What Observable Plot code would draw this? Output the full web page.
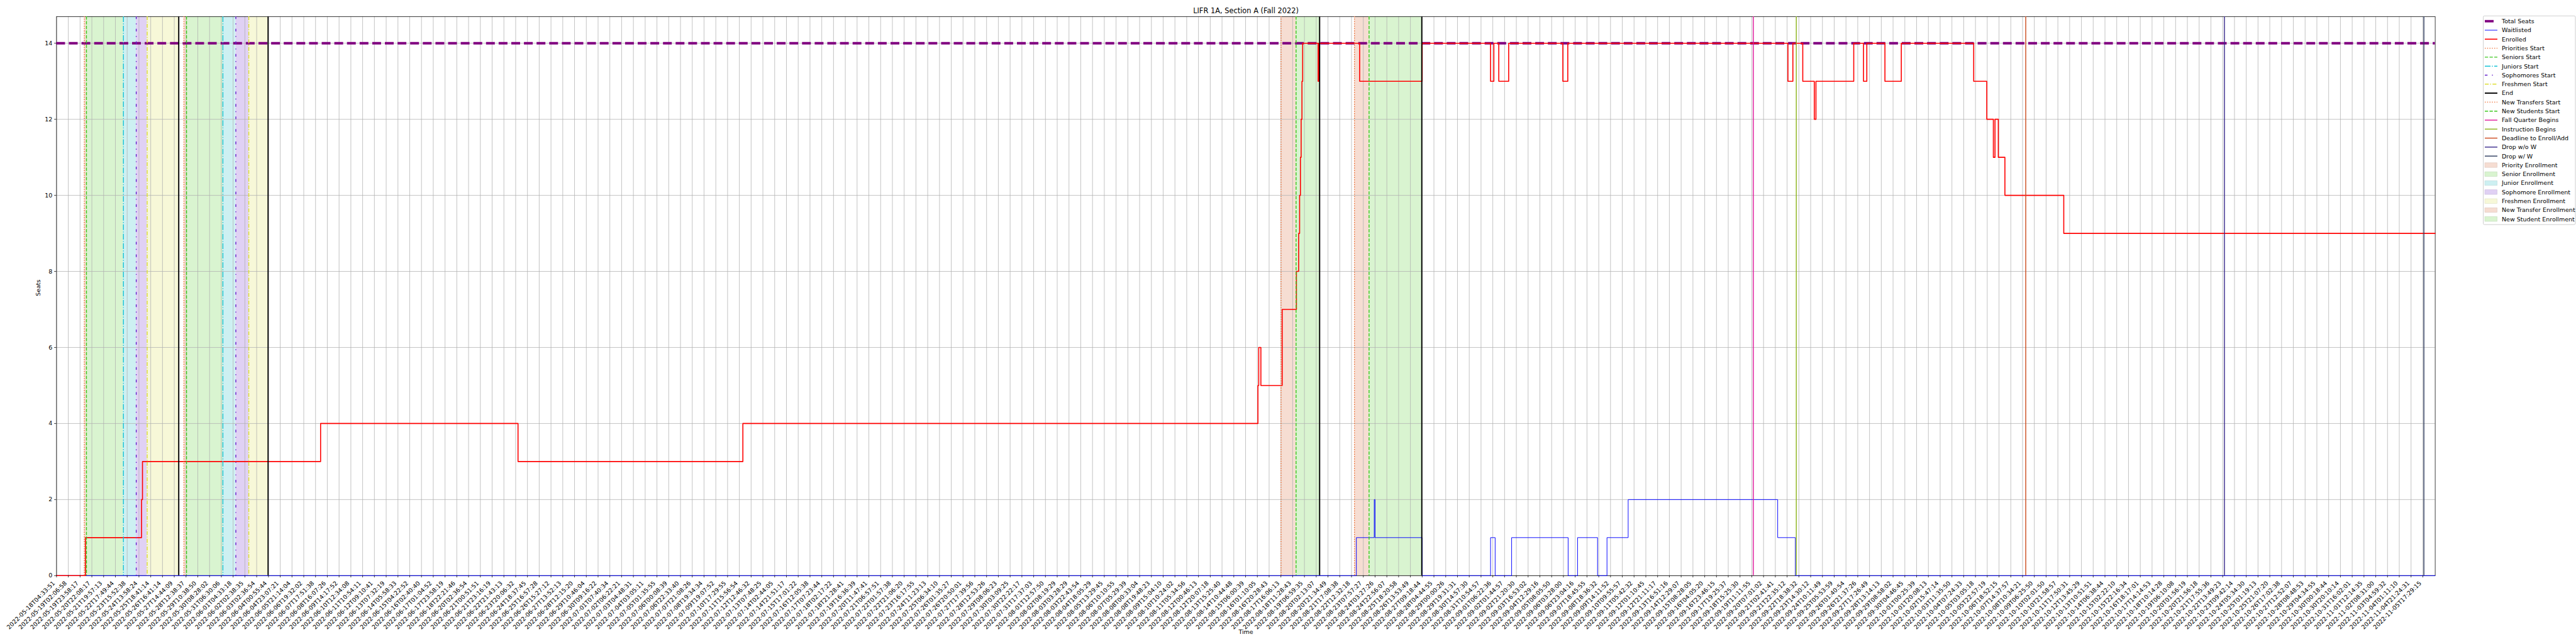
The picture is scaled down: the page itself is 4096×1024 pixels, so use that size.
<!DOCTYPE html>
<html>
<head>
<meta charset="utf-8">
<script src="https://cdn.jsdelivr.net/npm/d3@7"></script>
<script src="https://cdn.jsdelivr.net/npm/@observablehq/plot@0.6"></script>
<style>
  body { margin: 0; background: #fff; }
  #chart { position: relative; width: 4096px; height: 1024px; font-family: "DejaVu Sans", sans-serif; }
  #chart svg { position: absolute; left: 0; top: 0; }
</style>
</head>
<body>
<div id="chart"></div>
<script>
// ---------------- data ----------------
const chartTitle = "LIFR 1A, Section A (Fall 2022)";
const xLabel = "Time";
const yLabel = "Seats";

const tickLabels = [
"2022-05-18T04:33:51","2022-05-19T02:06:58","2022-05-19T23:58:17","2022-05-20T22:08:17","2022-05-21T19:57:13",
"2022-05-22T17:49:44","2022-05-23T15:52:38","2022-05-24T13:58:24","2022-05-25T18:41:14","2022-05-26T16:41:14",
"2022-05-27T14:44:09","2022-05-28T12:38:37","2022-05-29T10:38:50","2022-05-30T08:28:02","2022-05-31T06:30:06",
"2022-06-01T04:33:18","2022-06-02T02:38:35","2022-06-03T02:36:54","2022-06-04T00:55:44","2022-06-04T23:07:21",
"2022-06-05T21:14:04","2022-06-06T19:32:02","2022-06-07T17:51:38","2022-06-08T16:07:26","2022-06-09T14:17:52",
"2022-06-10T12:34:08","2022-06-11T10:54:11","2022-06-12T09:10:41","2022-06-13T07:32:19","2022-06-14T05:58:33",
"2022-06-15T04:22:52","2022-06-16T02:40:40","2022-06-17T01:04:52","2022-06-17T23:58:19","2022-06-18T22:21:46",
"2022-06-20T02:36:54","2022-06-21T00:51:51","2022-06-21T23:16:19","2022-06-22T21:43:13","2022-06-23T20:06:32",
"2022-06-24T18:37:45","2022-06-25T16:57:28","2022-06-26T15:27:12","2022-06-27T13:52:13","2022-06-28T12:15:20",
"2022-06-29T10:46:04","2022-06-30T09:16:22","2022-07-01T07:40:34","2022-07-02T06:22:21","2022-07-03T04:48:31",
"2022-07-04T03:05:11","2022-07-05T01:35:55","2022-07-06T00:08:39","2022-07-06T22:33:40","2022-07-07T21:08:26",
"2022-07-08T19:34:34","2022-07-09T19:07:52","2022-07-10T17:29:55","2022-07-11T15:56:54","2022-07-12T12:46:32",
"2022-07-13T07:48:25","2022-07-14T02:44:05","2022-07-14T21:51:17","2022-07-15T17:01:22","2022-07-16T12:05:38",
"2022-07-17T07:23:44","2022-07-18T02:17:22","2022-07-18T21:28:41","2022-07-19T16:36:39","2022-07-20T11:47:41",
"2022-07-21T06:57:51","2022-07-22T01:57:38","2022-07-22T21:06:20","2022-07-23T16:17:55","2022-07-24T11:23:13",
"2022-07-25T06:34:10","2022-07-26T01:35:27","2022-07-26T20:50:01","2022-07-27T17:39:56","2022-07-28T12:53:26",
"2022-07-29T08:06:23","2022-07-30T03:09:25","2022-07-30T22:22:17","2022-07-31T17:37:03","2022-08-01T12:57:50",
"2022-08-02T08:19:29","2022-08-03T03:28:29","2022-08-03T22:43:54","2022-08-04T18:05:29","2022-08-05T13:29:45",
"2022-08-06T10:10:55","2022-08-07T05:29:39","2022-08-08T00:33:04","2022-08-08T19:48:23","2022-08-09T15:04:10",
"2022-08-10T10:24:02","2022-08-11T05:34:56","2022-08-12T00:46:13","2022-08-12T20:07:18","2022-08-13T15:25:40",
"2022-08-14T10:44:48","2022-08-15T06:00:39","2022-08-16T01:10:05","2022-08-16T20:28:43","2022-08-17T16:06:13",
"2022-08-18T11:28:43","2022-08-19T06:59:35","2022-08-20T02:13:07","2022-08-20T21:34:49","2022-08-21T17:08:38",
"2022-08-22T12:32:18","2022-08-23T07:57:27","2022-08-24T03:27:26","2022-08-24T22:56:07","2022-08-25T18:20:58",
"2022-08-26T13:53:49","2022-08-27T09:18:44","2022-08-28T04:44:55","2022-08-29T00:00:26","2022-08-29T19:31:31",
"2022-08-30T14:57:30","2022-08-31T10:54:57","2022-09-01T06:22:36","2022-09-02T01:44:57","2022-09-02T21:20:30",
"2022-09-03T16:53:02","2022-09-04T12:29:16","2022-09-05T08:05:50","2022-09-06T03:28:00","2022-09-06T23:04:16",
"2022-09-07T18:45:55","2022-09-08T18:36:32","2022-09-09T14:11:52","2022-09-10T09:55:57","2022-09-11T05:42:32",
"2022-09-12T01:10:45","2022-09-12T21:11:17","2022-09-13T16:51:16","2022-09-14T12:29:07","2022-09-15T08:28:05",
"2022-09-16T04:05:20","2022-09-16T23:46:15","2022-09-17T19:25:37","2022-09-18T15:25:30","2022-09-19T11:11:55",
"2022-09-20T07:01:02","2022-09-21T02:41:41","2022-09-21T22:35:12","2022-09-22T18:38:32","2022-09-23T14:30:12",
"2022-09-24T10:11:49","2022-09-25T05:53:59","2022-09-26T01:40:54","2022-09-26T21:37:26","2022-09-27T17:26:49",
"2022-09-28T13:14:13","2022-09-29T08:58:02","2022-09-30T04:46:45","2022-10-01T00:25:39","2022-10-01T20:08:13",
"2022-10-02T15:47:14","2022-10-03T11:35:50","2022-10-04T07:24:33","2022-10-05T03:05:18","2022-10-05T22:57:19",
"2022-10-06T18:52:15","2022-10-07T14:37:57","2022-10-08T10:34:21","2022-10-09T06:25:50","2022-10-10T02:01:50",
"2022-10-10T21:58:57","2022-10-11T17:50:31","2022-10-12T13:45:29","2022-10-13T10:51:51","2022-10-14T06:38:44",
"2022-10-15T02:22:10","2022-10-15T22:16:34","2022-10-16T18:17:01","2022-10-17T14:14:53","2022-10-18T10:14:28",
"2022-10-19T06:10:08","2022-10-20T01:56:19","2022-10-20T21:56:18","2022-10-21T17:55:36","2022-10-22T13:49:23",
"2022-10-23T09:42:14","2022-10-24T05:34:30","2022-10-25T01:19:13","2022-10-25T21:07:20","2022-10-26T17:02:38",
"2022-10-27T12:52:07","2022-10-28T08:48:53","2022-10-29T04:34:55","2022-10-30T00:18:44","2022-10-30T20:10:14",
"2022-10-31T16:02:01","2022-11-01T12:14:35","2022-11-02T08:31:00","2022-11-03T04:59:32","2022-11-04T01:11:10",
"2022-11-04T21:24:31","2022-11-05T17:29:15"
];
const yTicks = [0, 2, 4, 6, 8, 10, 12, 14];
const xEnd = 202.05;          // right end of the sample axis (in tick intervals)

const totalSeats = 14;

// x positions are measured in tick intervals along the sample axis
const enrolledX = [0, 2.46, 7.22, 7.30, 22.43, 39.2, 58.3, 102.05, 102.12, 102.3, 104.11,
  105.32, 105.51, 105.59, 105.66, 105.72, 105.79, 105.85, 107.16, 107.23, 110.69, 116.0,
  121.81, 122.09, 122.51, 123.35, 127.95, 128.37, 147.07, 147.49, 148.33, 149.31, 149.45,
  152.66, 153.49, 153.77, 155.31, 156.70, 162.85, 163.96, 164.52, 164.66, 164.94, 165.5, 170.5, 202.05];
const enrolledY = [0, 1, 2, 3, 4, 3, 4, 5, 6, 5, 7,
  8, 9, 10, 11, 12, 13, 14, 13, 14, 13, 14,
  13, 14, 13, 14, 13, 14, 13, 14, 13, 12, 13,
  14, 13, 14, 13, 14, 13, 12, 11, 12, 11, 10, 9, 9];

const waitX = [0, 110.41, 111.93, 112.0, 116.0, 121.81, 122.2, 123.6, 128.4, 129.2, 130.9, 131.7, 133.5, 146.2, 147.7, 202.05];
const waitY = [0, 1, 2, 1, 0, 1, 0, 1, 0, 1, 0, 1, 2, 1, 0, 0];

const prioritiesStart = [2.36, 10.82, 104.01];
const seniorsStart = [2.54, 11.04, 105.29];
const juniorsStart = [5.68, 14.13];
const sophomoresStart = [6.77, 15.23];
const freshmenStart = [7.70, 16.33];
const endTimes = [10.38, 17.97, 107.29, 115.97];
const newTransfersStart = [110.25];
const newStudentsStart = [111.49];
const fallQuarterBegins = [144.13];
const instructionBegins = [147.78];
const deadlineEnrollAdd = [167.27];
const dropWithoutW = [184.15];
const dropWithW = [201.09];

// ---------------- styles ----------------
const C = {
  total: "#800080", wait: "#0000ff", enrolled: "#ff0000",
  priorities: "#ee6b2f", seniors: "#3cc81e", juniors: "#17c3d6", sophomores: "#6622cc",
  freshmen: "#dddd33", end: "#000000", fall: "#e0179b", instruction: "#8cb41c",
  deadline: "#cc4a1e", dropNoW: "#382a8c", dropW: "#2e3b5e",
  fPriority: "#f6ddd2", fSenior: "#d9f4d0", fJunior: "#cdf0f2", fSoph: "#e0d1f4", fFresh: "#f7f8d8"
};
const DOT = "1.42,2.34", DASH = "5.25,2.27", DASHDOT = "9.08,2.27,1.42,2.27",
      SOPH = "4.3,7.1,1.42,7.1", FRESH = "6.2,2.3,1.42,2.3", TOTALDASH = "14,6.1";

// spans built from the event arrays
const spans = [];
prioritiesStart.forEach((s, i) => spans.push({x1: s, x2: seniorsStart[i], fill: C.fPriority}));
seniorsStart.forEach((s, i) => spans.push({x1: s, x2: i < juniorsStart.length ? juniorsStart[i] : endTimes[i], fill: C.fSenior}));
juniorsStart.forEach((s, i) => spans.push({x1: s, x2: sophomoresStart[i], fill: C.fJunior}));
sophomoresStart.forEach((s, i) => spans.push({x1: s, x2: freshmenStart[i], fill: C.fSoph}));
freshmenStart.forEach((s, i) => spans.push({x1: s, x2: endTimes[i], fill: C.fFresh}));
newTransfersStart.forEach((s, i) => spans.push({x1: s, x2: newStudentsStart[i], fill: C.fPriority}));
newStudentsStart.forEach((s, i) => spans.push({x1: s, x2: endTimes[3], fill: C.fSenior}));

const enrolled = enrolledX.map((x, i) => ({x, y: enrolledY[i]}));
const waitlisted = waitX.map((x, i) => ({x, y: waitY[i]}));
const tickIdx = d3.range(tickLabels.length);

// ---------------- layout (0.6827 of 6000x1500) ----------------
const W = 4096, H = 1024;
const mL = 89.4, mR = 224.4, mT = 25.9, mB = 109.2;

const plot = Plot.plot({
  width: W, height: H,
  marginLeft: mL, marginRight: mR, marginTop: mT, marginBottom: mB,
  style: {fontFamily: "DejaVu Sans", fontSize: "9.5px", background: "#fff", overflow: "visible", color: "black"},
  x: {domain: [0, xEnd], axis: null},
  y: {domain: [0, 14.7], axis: null},
  marks: [
    Plot.rect(spans, {x1: "x1", x2: "x2", fill: "fill"}),
    Plot.gridX({ticks: tickIdx, stroke: "#b0b0b0", strokeOpacity: 1, strokeWidth: 0.76}),
    Plot.gridY({ticks: yTicks, stroke: "#b0b0b0", strokeOpacity: 1, strokeWidth: 0.76}),
    Plot.frame({stroke: "black", strokeWidth: 0.76}),
    Plot.ruleY([totalSeats], {stroke: C.total, strokeWidth: 3.8, strokeDasharray: TOTALDASH}),
    Plot.line(waitlisted, {x: "x", y: "y", curve: "step-after", stroke: C.wait, strokeWidth: 0.95}),
    Plot.line(enrolled, {x: "x", y: "y", curve: "step-after", stroke: C.enrolled, strokeWidth: 1.6}),
    Plot.ruleX(prioritiesStart, {stroke: C.priorities, strokeWidth: 1.42, strokeDasharray: DOT}),
    Plot.ruleX(seniorsStart, {stroke: C.seniors, strokeWidth: 1.42, strokeDasharray: DASH}),
    Plot.ruleX(juniorsStart, {stroke: C.juniors, strokeWidth: 1.42, strokeDasharray: DASHDOT}),
    Plot.ruleX(sophomoresStart, {stroke: C.sophomores, strokeWidth: 1.42, strokeDasharray: SOPH}),
    Plot.ruleX(freshmenStart, {stroke: C.freshmen, strokeWidth: 1.42, strokeDasharray: FRESH}),
    Plot.ruleX(endTimes, {stroke: C.end, strokeWidth: 1.9}),
    Plot.ruleX(newTransfersStart, {stroke: C.priorities, strokeWidth: 1.42, strokeDasharray: DOT}),
    Plot.ruleX(newStudentsStart, {stroke: C.seniors, strokeWidth: 1.42, strokeDasharray: DASH}),
    Plot.ruleX(fallQuarterBegins, {stroke: C.fall, strokeWidth: 1.42}),
    Plot.ruleX(instructionBegins, {stroke: C.instruction, strokeWidth: 1.42}),
    Plot.ruleX(deadlineEnrollAdd, {stroke: C.deadline, strokeWidth: 1.42}),
    Plot.ruleX(dropWithoutW, {stroke: C.dropNoW, strokeWidth: 1.42}),
    Plot.ruleX(dropWithW, {stroke: C.dropW, strokeWidth: 1.42}),
    Plot.axisX({ticks: tickIdx, tickSize: 3.3, fill: "none", strokeWidth: 0.76, label: null}),
    Plot.text(tickIdx, {x: d => d, text: d => tickLabels[d], frameAnchor: "bottom", rotate: -45,
      textAnchor: "end", lineAnchor: "middle", dx: -3.9, dy: 10.5, fontSize: 9.5, fill: "black"}),
    Plot.axisY({ticks: yTicks, tickSize: 3.3, tickPadding: 3.3, fontSize: 9.5, strokeWidth: 0.76, label: null}),
    Plot.text([chartTitle], {frameAnchor: "top", dy: -5.6, lineAnchor: "bottom", fontSize: 11.4, fill: "black"}),
    Plot.text([xLabel], {frameAnchor: "bottom", dy: 93, lineAnchor: "bottom", fontSize: 9.5, fill: "black"}),
    Plot.text([yLabel], {frameAnchor: "left", dx: -29.4, rotate: -90, lineAnchor: "middle", fontSize: 9.5, fill: "black"})
  ]
});
document.getElementById("chart").appendChild(plot);

// ---------------- legend ----------------
const legendItems = [
  {label: "Total Seats", kind: "line", color: C.total, width: 3.8, dash: TOTALDASH},
  {label: "Waitlisted", kind: "line", color: C.wait, width: 0.95},
  {label: "Enrolled", kind: "line", color: C.enrolled, width: 1.6},
  {label: "Priorities Start", kind: "line", color: C.priorities, width: 1.42, dash: DOT},
  {label: "Seniors Start", kind: "line", color: C.seniors, width: 1.42, dash: DASH},
  {label: "Juniors Start", kind: "line", color: C.juniors, width: 1.42, dash: DASHDOT},
  {label: "Sophomores Start", kind: "line", color: C.sophomores, width: 1.42, dash: SOPH},
  {label: "Freshmen Start", kind: "line", color: C.freshmen, width: 1.42, dash: FRESH},
  {label: "End", kind: "line", color: C.end, width: 1.9},
  {label: "New Transfers Start", kind: "line", color: C.priorities, width: 1.42, dash: DOT},
  {label: "New Students Start", kind: "line", color: C.seniors, width: 1.42, dash: DASH},
  {label: "Fall Quarter Begins", kind: "line", color: C.fall, width: 1.42},
  {label: "Instruction Begins", kind: "line", color: C.instruction, width: 1.42},
  {label: "Deadline to Enroll/Add", kind: "line", color: C.deadline, width: 1.42},
  {label: "Drop w/o W", kind: "line", color: C.dropNoW, width: 1.42},
  {label: "Drop w/ W", kind: "line", color: C.dropW, width: 1.42},
  {label: "Priority Enrollment", kind: "patch", color: C.fPriority},
  {label: "Senior Enrollment", kind: "patch", color: C.fSenior},
  {label: "Junior Enrollment", kind: "patch", color: C.fJunior},
  {label: "Sophomore Enrollment", kind: "patch", color: C.fSoph},
  {label: "Freshmen Enrollment", kind: "patch", color: C.fFresh},
  {label: "New Transfer Enrollment", kind: "patch", color: C.fPriority},
  {label: "New Student Enrollment", kind: "patch", color: C.fSenior}
];
const lg = d3.select("#chart").append("svg")
  .attr("width", W).attr("height", H)
  .style("pointer-events", "none")
  .attr("font-family", "DejaVu Sans").attr("font-size", 9.5);
lg.append("rect").attr("x", 3948.5).attr("y", 25.3).attr("width", 146.5).attr("height", 331.8)
  .attr("rx", 1.9).attr("fill", "#fff").attr("fill-opacity", 0.8)
  .attr("stroke", "#cccccc").attr("stroke-width", 0.95);
const rowY = i => 33.7 + i * 14.3;
legendItems.forEach((it, i) => {
  const y = rowY(i);
  if (it.kind === "line") {
    const l = lg.append("line").attr("x1", 3951).attr("x2", 3971).attr("y1", y).attr("y2", y)
      .attr("stroke", it.color).attr("stroke-width", it.width);
    if (it.dash) l.attr("stroke-dasharray", it.dash);
  } else {
    lg.append("rect").attr("x", 3951).attr("y", y - 3.65).attr("width", 19.6).attr("height", 7.3)
      .attr("fill", it.color).attr("stroke", d3.color(it.color).darker(0.25)).attr("stroke-width", 0.7);
  }
  lg.append("text").attr("x", 3978).attr("y", y).attr("dy", "0.35em").attr("fill", "black").text(it.label);
});
</script>
</body>
</html>
